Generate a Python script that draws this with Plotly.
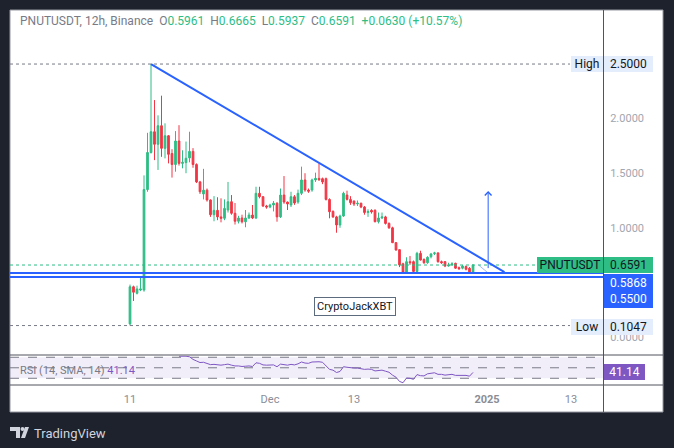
import plotly.graph_objects as go
import pandas as pd

W, H = 674, 448

# ---------------- data (12h candles, PNUTUSDT Binance) ----------------
start = "2024-11-11 00:00"
opens = [0.1200, 0.4600, 0.4000, 0.4300, 0.4300, 1.3500, 1.6900, 1.8800, 1.7650, 1.9350,
         1.7280, 1.8430, 1.6800, 1.5800, 1.7950, 1.5900, 1.5970, 1.6400, 1.7000, 1.5800,
         1.4200, 1.3100, 1.3450, 1.2550, 1.1200, 1.1600, 1.1000, 1.0870, 1.1630, 1.2390,
         1.1330, 1.0600, 1.0900, 1.0550, 1.0900, 1.1170, 1.0900, 1.3160, 1.2850, 1.2000,
         1.1900, 1.2090, 1.2250, 1.1000, 1.3000, 1.2360, 1.2090, 1.2850, 1.2360, 1.3160,
         1.4380, 1.3460, 1.3460, 1.4380, 1.4530, 1.4500, 1.4500, 1.2600, 1.1500, 1.1000,
         1.0260, 1.1080, 1.3000, 1.2600, 1.2450, 1.2180, 1.2250, 1.1900, 1.1400, 1.1600,
         1.1600, 1.0560, 1.0900, 1.1000, 1.0400, 1.0000, 0.8640, 0.8000, 0.6700, 0.5900,
         0.6900, 0.6900, 0.6000, 0.7660, 0.7100, 0.6800, 0.7350, 0.7650, 0.7700, 0.6900,
         0.6900, 0.6500, 0.6600, 0.6750, 0.6350, 0.6300, 0.6450, 0.6300, 0.5961]
highs = [0.4800, 0.4700, 0.4700, 0.5500, 1.4800, 1.8700, 2.5000, 2.1700, 2.0300, 2.2100,
         1.9570, 1.8500, 1.7200, 1.8860, 1.9400, 1.7100, 1.7900, 1.8800, 1.7300, 1.5900,
         1.4300, 1.5400, 1.3600, 1.2600, 1.2900, 1.2800, 1.2700, 1.2600, 1.4200, 1.3000,
         1.2270, 1.1100, 1.1200, 1.1630, 1.1400, 1.2090, 1.3760, 1.3760, 1.2900, 1.2100,
         1.2200, 1.2450, 1.2350, 1.3600, 1.4740, 1.2400, 1.3300, 1.3000, 1.3500, 1.5600,
         1.5000, 1.3600, 1.4500, 1.5050, 1.5900, 1.4600, 1.4600, 1.2700, 1.1600, 1.1100,
         1.1200, 1.3300, 1.3400, 1.2900, 1.2500, 1.2500, 1.2300, 1.2000, 1.1700, 1.1700,
         1.1700, 1.1400, 1.1400, 1.1100, 1.0500, 1.0100, 0.8700, 0.8000, 0.6800, 0.7300,
         0.7420, 0.7000, 0.7800, 0.7900, 0.7200, 0.7400, 0.7700, 0.7800, 0.7750, 0.7000,
         0.6950, 0.6800, 0.6850, 0.6800, 0.6450, 0.6600, 0.6550, 0.6400, 0.6665]
lows = [0.1047, 0.3300, 0.3900, 0.4200, 0.4150, 1.3300, 1.6800, 1.6200, 1.5300, 1.6500,
        1.6360, 1.5900, 1.4600, 1.5140, 1.5700, 1.5450, 1.5000, 1.6000, 1.5500, 1.4100,
        1.3100, 1.2600, 1.2400, 1.1000, 1.0600, 1.0700, 1.0500, 1.0700, 1.1400, 1.1200,
        1.0300, 1.0400, 1.0400, 1.0050, 1.0800, 1.0800, 1.0800, 1.2700, 1.1900, 1.1750,
        1.1800, 1.1500, 1.0560, 1.0900, 1.2200, 1.1630, 1.1900, 1.2100, 1.2200, 1.3000,
        1.3300, 1.3200, 1.3300, 1.4200, 1.4300, 1.4000, 1.2500, 1.0870, 1.0900, 0.9550,
        1.0000, 1.1000, 1.2500, 1.2100, 1.2000, 1.2000, 1.1800, 1.1200, 1.1000, 1.1300,
        1.0500, 1.0400, 1.0800, 1.0300, 0.9900, 0.8600, 0.7900, 0.6400, 0.5850, 0.5850,
        0.6600, 0.5900, 0.5900, 0.7000, 0.6700, 0.6700, 0.7200, 0.7500, 0.6800, 0.6700,
        0.6400, 0.6450, 0.6500, 0.6250, 0.6150, 0.6200, 0.6100, 0.5900, 0.5937]
closes = [0.4600, 0.4100, 0.4400, 0.4400, 1.3500, 1.6900, 1.8800, 1.7650, 1.9350, 1.7280,
          1.8430, 1.6730, 1.5800, 1.7950, 1.5900, 1.6000, 1.6370, 1.7000, 1.5800, 1.4200,
          1.3300, 1.3450, 1.2550, 1.1200, 1.1600, 1.1000, 1.0870, 1.1780, 1.2390, 1.1330,
          1.0600, 1.0900, 1.0550, 1.0900, 1.1170, 1.0900, 1.3160, 1.2850, 1.2000, 1.1900,
          1.2090, 1.2250, 1.1000, 1.3000, 1.2360, 1.2180, 1.2850, 1.2270, 1.3160, 1.4380,
          1.3460, 1.3350, 1.4380, 1.4530, 1.4400, 1.4200, 1.2600, 1.1470, 1.1000, 1.0260,
          1.1080, 1.3160, 1.2600, 1.2300, 1.2180, 1.2250, 1.1900, 1.1400, 1.1500, 1.1450,
          1.0560, 1.0900, 1.1000, 1.0400, 1.0000, 0.8640, 0.7970, 0.6600, 0.5900, 0.6900,
          0.6800, 0.6000, 0.7660, 0.7050, 0.6800, 0.7300, 0.7600, 0.7700, 0.6900, 0.6800,
          0.6500, 0.6600, 0.6700, 0.6300, 0.6250, 0.6500, 0.6200, 0.5961, 0.6591]

rsi_start = 14
rsi_values = [72.0, 72.5, 72.0, 71.0, 66.0, 63.0, 60.0, 60.5, 58.5, 56.0,
              56.5, 55.5, 55.0, 56.0, 57.0, 55.0, 53.5, 53.5, 52.5, 53.0,
              53.5, 52.5, 59.5, 58.5, 55.5, 55.0, 55.5, 55.5, 52.0, 57.0,
              56.0, 55.0, 56.5, 55.5, 57.5, 61.0, 59.0, 58.5, 61.0, 61.5,
              61.5, 60.5, 53.0, 47.0, 45.5, 41.0, 43.0, 52.0, 51.0, 50.0,
              49.5, 49.5, 48.5, 47.0, 47.5, 47.0, 44.0, 45.0, 45.5, 43.5,
              41.5, 36.0, 32.0, 24.0, 21.5, 30.5, 30.0, 28.0, 37.0, 35.0,
              34.5, 38.5, 40.0, 40.5, 37.5, 37.5, 36.0, 37.0, 37.5, 35.5,
              35.5, 36.5, 35.5, 34.0, 41.14]

level_high = 2.5000
level_low = 0.1047
support_levels = [0.5868, 0.5500]
last_price = 0.6591

# drawings (time, price)
trend_start = ("2024-11-14 00:00", 2.50)
trend_end = ("2025-01-03 12:00", 0.595)
arrow_base = ("2025-01-01 04:00", 0.617)
arrow_tip = ("2025-01-01 04:00", 1.337)
helper_line = [("2024-12-30 19:00", 0.659), ("2025-01-01 00:00", 0.595)]

tick_dates = ["2024-11-11", "2024-12-01", "2024-12-13", "2025-01-01", "2025-01-13"]
tick_text = ["11", "Dec", "13", "<b>2025</b>", "13"]
price_ticks = [0.0, 1.0, 1.5, 2.0]

# ---------------- styling ----------------
GREEN = "#2ebd85"
RED = "#f23645"
BLUE = "#2962ff"
PURPLE = "#7e57c2"
GRAY = "#787b86"
BG = "#1e222d"
FONT = "Roboto"

dates = pd.date_range(start, periods=len(closes), freq="12h")
rsi_dates = dates[rsi_start:]


def px(x):
    return x / W


def py(y):
    return 1 - y / H


fig = go.Figure()

fig.add_trace(go.Candlestick(
    x=dates, open=opens, high=highs, low=lows, close=closes,
    increasing=dict(line=dict(color=GREEN, width=1), fillcolor=GREEN),
    decreasing=dict(line=dict(color=RED, width=1), fillcolor=RED),
    whiskerwidth=0, showlegend=False, hoverinfo="skip",
    xaxis="x", yaxis="y",
))

fig.add_trace(go.Scatter(
    x=rsi_dates, y=rsi_values, mode="lines",
    line=dict(color=PURPLE, width=1), showlegend=False, hoverinfo="skip",
    xaxis="x2", yaxis="y2",
))

x_range = ["2024-10-24 20:34", "2025-01-17 13:41"]
main_dom = [py(355), py(10)]
rsi_dom = [py(385), py(355.5)]
xdom = [px(10), px(603)]

fig.update_layout(
    width=W, height=H,
    margin=dict(l=0, r=0, t=0, b=0),
    paper_bgcolor=BG,
    plot_bgcolor="rgba(0,0,0,0)",
    showlegend=False,
    font=dict(family=FONT, size=11, color=GRAY),
    xaxis=dict(domain=xdom, range=x_range, anchor="y", showticklabels=False,
               showgrid=False, zeroline=False, rangeslider=dict(visible=False),
               showline=False, fixedrange=True),
    yaxis=dict(domain=main_dom, range=[-0.165, 2.995], side="right", anchor="x",
               tickvals=price_ticks, tickformat=".4f", showgrid=False, zeroline=False,
               ticks="outside", ticklen=4, tickcolor="rgba(0,0,0,0)",
               tickfont=dict(family=FONT, size=11, color="#a3a6af"), showline=False),
    xaxis2=dict(domain=xdom, range=x_range, anchor="y2", matches="x",
                tickvals=pd.to_datetime(tick_dates), ticktext=tick_text,
                showgrid=False, zeroline=False, showline=False,
                ticks="outside", ticklen=4, tickcolor="rgba(0,0,0,0)",
                tickfont=dict(family=FONT, size=11, color="#8a8d96")),
    yaxis2=dict(domain=rsi_dom, range=[17.2, 73.4], side="right", anchor="x2",
                showticklabels=False, showgrid=False, zeroline=False, showline=False),
)

shapes = []
# white chart area
shapes.append(dict(type="rect", xref="paper", yref="paper", x0=px(10), x1=px(663),
                   y0=py(412), y1=py(10), fillcolor="white", line=dict(color="#9598a1", width=1),
                   layer="below"))
# RSI band + levels
shapes.append(dict(type="rect", xref="x2 domain", yref="y2", x0=0, x1=1, y0=30, y1=70,
                   fillcolor="rgba(126,87,194,0.1)", line=dict(width=0), layer="below"))
for lv in (70, 50, 30):
    shapes.append(dict(type="line", xref="x2 domain", yref="y2", x0=0, x1=1, y0=lv, y1=lv,
                       line=dict(color=GRAY, width=1, dash="dash"), layer="below"))
# high / low dotted
for lv in (level_high, level_low):
    shapes.append(dict(type="line", xref="paper", yref="y", x0=px(10), x1=px(570), y0=lv, y1=lv,
                       line=dict(color=GRAY, width=1, dash="dot")))
# last price dotted
shapes.append(dict(type="line", xref="paper", yref="y", x0=px(10), x1=px(537), y0=last_price,
                   y1=last_price, line=dict(color=GREEN, width=1, dash="dot")))
# support lines
for lv in support_levels:
    shapes.append(dict(type="line", xref="x domain", yref="y", x0=0, x1=1, y0=lv, y1=lv,
                       line=dict(color=BLUE, width=2)))
# trend line
shapes.append(dict(type="line", xref="x", yref="y", x0=trend_start[0], y0=trend_start[1],
                   x1=trend_end[0], y1=trend_end[1], line=dict(color=BLUE, width=2)))
# helper faint line
shapes.append(dict(type="line", xref="x", yref="y", x0=helper_line[0][0], y0=helper_line[0][1],
                   x1=helper_line[1][0], y1=helper_line[1][1],
                   line=dict(color="rgba(41,98,255,0.45)", width=1)))
# separators
for yy in (355, 385):
    shapes.append(dict(type="line", xref="paper", yref="paper", x0=px(10), x1=px(663),
                       y0=py(yy), y1=py(yy), line=dict(color="#50535e", width=1)))
shapes.append(dict(type="line", xref="paper", yref="paper", x0=px(603.5), x1=px(603.5),
                   y0=py(412), y1=py(10), line=dict(color="#50535e", width=1)))
# TradingView logo
shapes.append(dict(type="path", xref="paper", yref="paper",
                   path=f"M {px(10)},{py(427)} L {px(20)},{py(427)} L {px(20)},{py(438)} "
                        f"L {px(16)},{py(438)} L {px(16)},{py(431)} L {px(10)},{py(431)} Z",
                   fillcolor="#d1d4dc", line=dict(width=0)))
shapes.append(dict(type="circle", xref="paper", yref="paper", x0=px(20.5), x1=px(24.5),
                   y0=py(431), y1=py(427), fillcolor="#d1d4dc", line=dict(width=0)))
shapes.append(dict(type="path", xref="paper", yref="paper",
                   path=f"M {px(25)},{py(427)} L {px(29)},{py(427)} L {px(25)},{py(438)} "
                        f"L {px(21)},{py(438)} Z",
                   fillcolor="#d1d4dc", line=dict(width=0)))
fig.update_layout(shapes=shapes)

ann = []
# arrow drawing
ann.append(dict(x=arrow_tip[0], y=arrow_tip[1], ax=arrow_base[0], ay=arrow_base[1],
                xref="x", yref="y", axref="x", ayref="y", text="", showarrow=True,
                arrowhead=4, arrowsize=1.3, arrowwidth=1, arrowcolor=BLUE))
# header legend
hdr = (f"<span style='color:{GRAY}'>PNUTUSDT, 12h, Binance</span>  "
       f"<span style='color:{GRAY}'>O</span><span style='color:{GREEN}'>{opens[-1]:.4f}</span>  "
       f"<span style='color:{GRAY}'>H</span><span style='color:{GREEN}'>{highs[-1]:.4f}</span>  "
       f"<span style='color:{GRAY}'>L</span><span style='color:{GREEN}'>{lows[-1]:.4f}</span>  "
       f"<span style='color:{GRAY}'>C</span><span style='color:{GREEN}'>{closes[-1]:.4f}</span>  "
       f"<span style='color:{GREEN}'>+{closes[-1]-closes[-2]:.4f} "
       f"(+{(closes[-1]-closes[-2])/closes[-2]*100:.2f}%)</span>")
ann.append(dict(xref="paper", yref="paper", x=px(18), y=py(21), xanchor="left", yanchor="middle",
                text=hdr, showarrow=False, font=dict(family=FONT, size=12)))
# watermark text box
ann.append(dict(xref="paper", yref="paper", x=px(355), y=py(306), xanchor="center",
                yanchor="middle", text="CryptoJackXBT",
                showarrow=False, font=dict(family=FONT, size=11, color="#131722"),
                bgcolor="white", bordercolor="#5d6b7e", borderwidth=1, borderpad=2))
# RSI legend
ann.append(dict(xref="paper", yref="paper", x=px(18), y=py(370), xanchor="left", yanchor="middle",
                text=f"RSI (14, SMA, 14) <span style='color:{PURPLE}'>{rsi_values[-1]:.2f}</span>",
                showarrow=False, font=dict(family=FONT, size=11, color=GRAY)))


def box(xl, xr, yc, h, text, bg, color):
    return dict(xref="paper", yref="paper", x=px(xl), y=py(yc), xanchor="left", yanchor="middle",
                width=xr - xl, height=h, text=text, showarrow=False, bgcolor=bg,
                borderpad=0, borderwidth=0, align="center",
                font=dict(family=FONT, size=12, color=color))


LB = "#e3edfb"
ann.append(box(571, 603, 64, 16, "High", LB, "#131722"))
ann.append(box(604, 653, 64, 16, f"{level_high:.4f}", LB, "#131722"))
ann.append(box(571, 603, 326.5, 16, "Low", LB, "#131722"))
ann.append(box(604, 653, 326.5, 16, f"{level_low:.4f}", LB, "#131722"))
ann.append(box(537, 603, 265.3, 16, "PNUTUSDT", GREEN, "#131722"))
ann.append(box(604, 653, 265.3, 16, f"{last_price:.4f}", GREEN, "#131722"))
ann.append(box(604, 653, 291, 34, f"{support_levels[0]:.4f}<br>{support_levels[1]:.4f}", BLUE, "white"))
ann.append(box(604, 645, 372, 16, f"{rsi_values[-1]:.2f}", PURPLE, "white"))
# TradingView brand
ann.append(dict(xref="paper", yref="paper", x=px(32), y=py(433), xanchor="left", yanchor="middle",
                text="TradingView", showarrow=False, font=dict(family=FONT, size=13, color="#d1d4dc")))
fig.update_layout(annotations=ann)

fig.write_html("out.html")
